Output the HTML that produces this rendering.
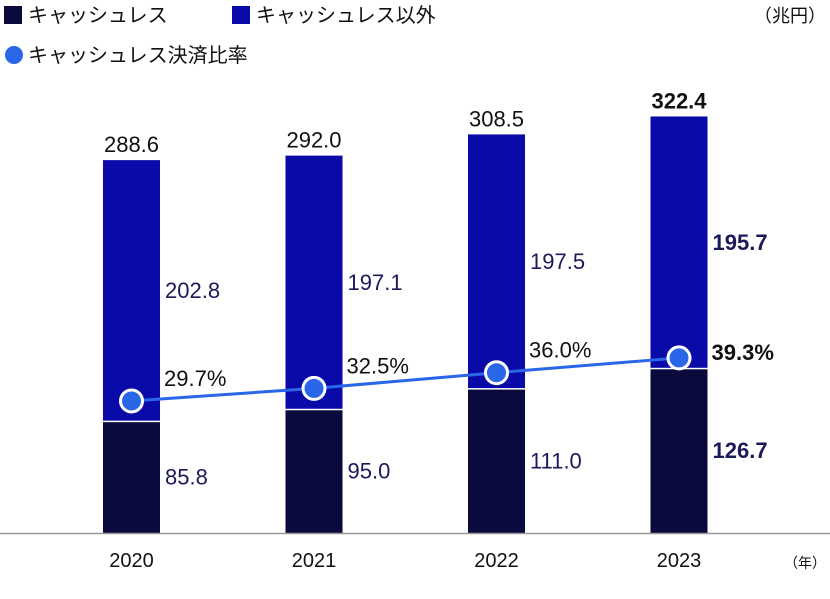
<!DOCTYPE html>
<html><head><meta charset="utf-8">
<style>
body{margin:0;background:#fff;}
svg text{font-family:"Liberation Sans","Noto Sans CJK JP",sans-serif;}
</style></head><body>
<svg width="830" height="594" viewBox="0 0 830 594">
<g>
<rect x="4" y="6" width="18" height="18" fill="#0a0a3c"/>
<text x="28" y="22" font-size="20" fill="#111">キャッシュレス</text>
<rect x="232" y="6" width="18" height="18" fill="#0a0aa8"/>
<text x="256" y="22" font-size="20" fill="#111">キャッシュレス以外</text>
<circle cx="14" cy="55" r="9" fill="#2a66e8"/>
<text x="28" y="62" font-size="20" fill="#111">キャッシュレス決済比率</text>
<text x="826" y="22" font-size="18" fill="#111" text-anchor="end">（兆円）</text>
</g>
<g id="plot"></g>
<line x1="0" y1="533.5" x2="830" y2="533.5" stroke="#999" stroke-width="1.5"/>
<text x="826" y="568" font-size="14" fill="#111" text-anchor="end">（年）</text>
</svg>
<script>
const years=["2020","2021","2022","2023"];
const cashless=[85.8,95.0,111.0,126.7];
const nonCashless=[202.8,197.1,197.5,195.7];
const totals=[288.6,292.0,308.5,322.4];
const ratio=[29.7,32.5,36.0,39.3];
const totalLabels=["288.6","292.0","308.5","322.4"];
const cashLabels=["85.8","95.0","111.0","126.7"];
const nonLabels=["202.8","197.1","197.5","195.7"];
const ratioLabels=["29.7%","32.5%","36.0%","39.3%"];
const NS="http://www.w3.org/2000/svg";
const g=document.getElementById('plot');
const base=533, k=1.292, bw=57;
const xc=i=>131.5+i*182.5;
const yv=v=>base-v*k;
const yp=p=>534-p*4.48;
function mk(t,a){const e=document.createElementNS(NS,t);for(const n in a)e.setAttribute(n,a[n]);g.appendChild(e);return e;}
years.forEach((yr,i)=>{
  const bold=i===3;
  let r=mk('rect',{x:xc(i)-bw/2,y:yv(cashless[i]),width:bw,height:cashless[i]*k,fill:'#0a0a3c'});
  
  
  r=mk('rect',{x:xc(i)-bw/2,y:yv(cashless[i]+nonCashless[i]),width:bw,height:nonCashless[i]*k-1.5,fill:'#0a0aa8'});
  
  
  let t=mk('text',{x:xc(i),y:yv(totals[i])-8,'font-size':22,'text-anchor':'middle',fill:'#111','font-weight':bold?'bold':'normal'});
  t.textContent=totalLabels[i];
  
  
  t=mk('text',{x:xc(i)+bw/2+5,y:yv(cashless[i]+nonCashless[i]/2)+7,'font-size':22,fill:'#1a1a5a','font-weight':bold?'bold':'normal'});
  t.textContent=nonLabels[i];
  
  
  t=mk('text',{x:xc(i)+bw/2+5,y:yv(cashless[i]/2)+7,'font-size':22,fill:'#1a1a5a','font-weight':bold?'bold':'normal'});
  t.textContent=cashLabels[i];
  
  
  t=mk('text',{x:xc(i),y:567,'font-size':20,'text-anchor':'middle',fill:'#111'});
  t.textContent=yr;
  
  
});
const pts=ratio.map((p,i)=>xc(i)+','+yp(p)).join(' ');
let pl=mk('polyline',{points:pts,fill:'none',stroke:'#2a66e8','stroke-width':3});


ratio.forEach((p,i)=>{
  let c=mk('circle',{cx:xc(i),cy:yp(p),r:11,fill:'#2a66e8',stroke:'#fff','stroke-width':3});
  
  
  let t=mk('text',{x:xc(i)+bw/2+4,y:yp(p)-15,'font-size':22,fill:'#111','font-weight':i===3?'bold':'normal'});
  if(i===3)t.setAttribute('y',yp(p)+2);
  t.textContent=ratioLabels[i];
  
  
});
</script>
</body></html>
